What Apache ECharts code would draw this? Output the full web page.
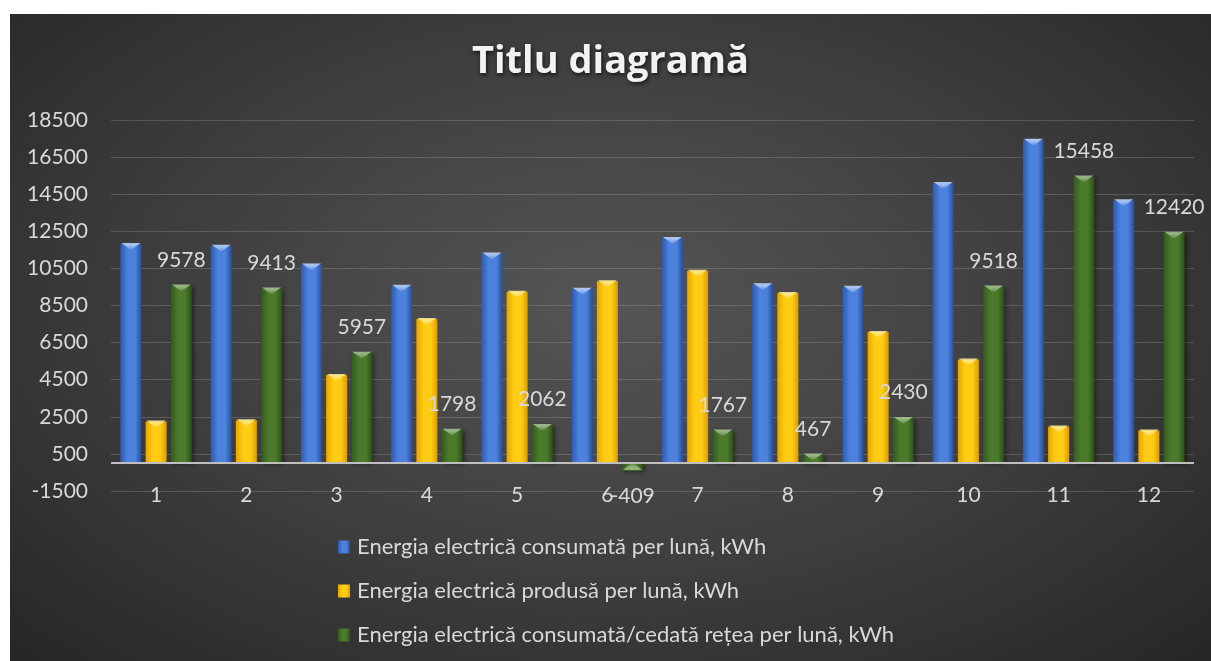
<!DOCTYPE html>
<html>
<head>
<meta charset="utf-8">
<script src="https://cdn.jsdelivr.net/npm/echarts@6/dist/echarts.min.js"></script>
<style>
  html, body { margin: 0; padding: 0; background: #fff; }
  #chart {
    position: absolute; left: 10px; top: 14px; width: 1201px; height: 647px;
    background: radial-gradient(ellipse at 50% 45%, #555555 0%, #3d3d3d 55%, #262626 100%);
  }
</style>
</head>
<body>
<div id="chart"></div>
<script>
const months = ['1', '2', '3', '4', '5', '6', '7', '8', '9', '10', '11', '12'];
const consumed = [11820, 11720, 10710, 9570, 11300, 9400, 12140, 9640, 9505, 15110, 17430, 14180];
const produced = [2240, 2310, 4753, 7772, 9238, 9809, 10373, 9173, 7075, 5592, 1972, 1760];
const grid_net = [9578, 9413, 5957, 1798, 2062, -409, 1767, 467, 2430, 9518, 15458, 12420];
const seriesNames = [
  'Energia electrică consumată per lună, kWh',
  'Energia electrică produsă per lună, kWh',
  'Energia electrică consumată/cedată rețea per lună, kWh'
];

const FONT = 'Lato';
const LABEL = '#d9d9d9';
const BAR_W = 21;

// horizontal gradient to fake the bevelled 3d look of the excel bars
function barFill(edge, mid, dark) {
  return new echarts.graphic.LinearGradient(0, 0, 1, 0, [
    { offset: 0, color: edge },
    { offset: 0.35, color: mid },
    { offset: 0.7, color: mid },
    { offset: 1, color: dark }
  ]);
}

function barSeries(name, data, fill) {
  return {
    name: name,
    type: 'bar',
    data: data,
    barWidth: BAR_W,
    barGap: '20%',
    itemStyle: {
      color: fill,
      shadowColor: 'rgba(0,0,0,0.45)', shadowBlur: 4, shadowOffsetX: 2, shadowOffsetY: 1
    },
    z: 3
  };
}

// the light bevel on top of each bar
function capSeries(data, light) {
  return {
    type: 'pictorialBar',
    data: data,
    barWidth: BAR_W,
    barGap: '20%',
    symbol: 'path://M0,0 L20,0 L10,7 Z',
    symbolSize: [BAR_W - 2, 7],
    symbolPosition: 'end',
    symbolOffset: [0, -1],
    silent: true,
    itemStyle: {
      color: new echarts.graphic.LinearGradient(0, 0, 0, 1, [
        { offset: 0, color: light },
        { offset: 1, color: 'rgba(255,255,255,0.05)' }
      ])
    },
    z: 4
  };
}

const chart = echarts.init(document.getElementById('chart'));

const netSeries = barSeries(seriesNames[2],
  grid_net.map(v => v < 0 ? { value: v, label: { position: 'bottom' } } : v),
  barFill('#335a1c', '#4b7a2b', '#2c4e17'));
netSeries.label = {
  show: true,
  position: 'top',
  distance: 15,
  color: LABEL,
  fontFamily: FONT,
  fontSize: 21
};

const consumedSeries = barSeries(seriesNames[0], consumed, barFill('#2d5ab0', '#4c82de', '#284e98'));
consumedSeries.markLine = {
  silent: true,
  symbol: 'none',
  label: { show: false },
  lineStyle: { color: '#bfbfbf', width: 2, type: 'solid' },
  data: [{ yAxis: 0 }]
};

const option = {
  backgroundColor: 'transparent',
  title: {
    text: 'Titlu diagramă',
    left: 'center',
    top: 29,
    padding: 0,
    textStyle: {
      color: '#f2f2f2',
      fontFamily: 'Open Sans',
      fontWeight: 'bold',
      fontSize: 38,
      textShadowColor: 'rgba(0,0,0,0.7)',
      textShadowBlur: 4,
      textShadowOffsetX: 1,
      textShadowOffsetY: 2
    }
  },
  legend: {
    orient: 'vertical',
    left: 328,
    top: 521,
    padding: 0,
    itemWidth: 12,
    itemHeight: 13,
    itemGap: 20,
    icon: 'rect',
    textStyle: { color: LABEL, fontFamily: FONT, fontSize: 22, lineHeight: 24, padding: [0, 0, 0, 2] },
    data: seriesNames
  },
  grid: { left: 101, right: 17, top: 106, bottom: 170 },
  xAxis: {
    type: 'category',
    data: months,
    axisLine: { show: false, onZero: false },
    axisTick: { show: false },
    axisLabel: { color: LABEL, fontFamily: FONT, fontSize: 21, margin: -6 }
  },
  yAxis: {
    type: 'value',
    min: -1500,
    max: 18500,
    interval: 2000,
    axisLine: { show: false },
    axisTick: { show: false },
    axisLabel: { color: LABEL, fontFamily: FONT, fontSize: 21, margin: 23, formatter: v => String(v) },
    splitLine: { lineStyle: { color: 'rgba(255,255,255,0.16)', width: 1 } }
  },
  series: [
    consumedSeries,
    barSeries(seriesNames[1], produced, barFill('#e8a600', '#ffcc14', '#dc9c00')),
    netSeries,
    capSeries(consumed, 'rgba(190,215,255,0.9)'),
    capSeries(produced, 'rgba(255,240,150,0.9)'),
    capSeries(grid_net, 'rgba(190,220,170,0.75)')
  ]
};

chart.setOption(option);
</script>
</body>
</html>
